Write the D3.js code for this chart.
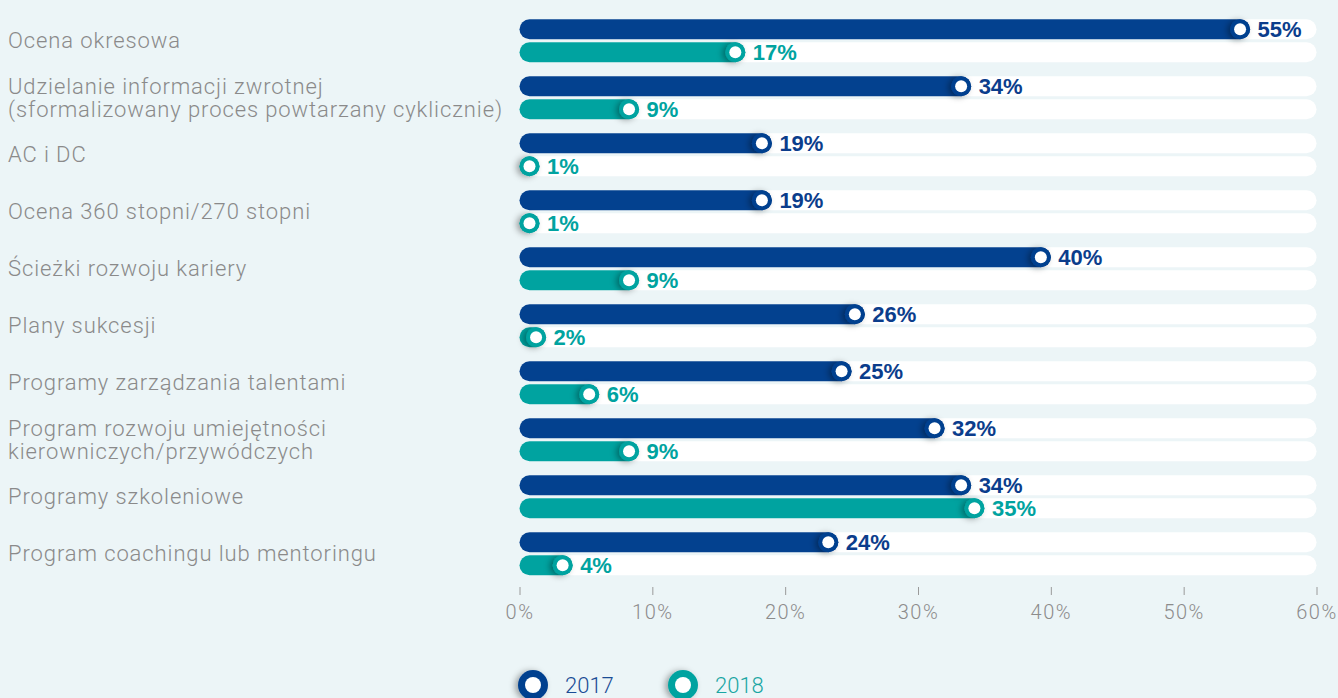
<!DOCTYPE html>
<html>
<head>
<meta charset="utf-8">
<script src="https://cdn.jsdelivr.net/npm/d3@7"></script>
<style>
  html, body { margin: 0; padding: 0; background: #ecf5f7; }
  svg { display: block; }
</style>
</head>
<body>
<svg id="chart" width="1338" height="698"></svg>
<script>
// Narzędzia rozwoju pracowników – porównanie 2017 i 2018
const categories = [
  ["Ocena okresowa"],
  ["Udzielanie informacji zwrotnej", "(sformalizowany proces powtarzany cyklicznie)"],
  ["AC i DC"],
  ["Ocena 360 stopni/270 stopni"],
  ["Ścieżki rozwoju kariery"],
  ["Plany sukcesji"],
  ["Programy zarządzania talentami"],
  ["Program rozwoju umiejętności", "kierowniczych/przywódczych"],
  ["Programy szkoleniowe"],
  ["Program coachingu lub mentoringu"]
];
const values2017 = [55, 34, 19, 19, 40, 26, 25, 32, 34, 24];
const values2018 = [17, 9, 1, 1, 9, 2, 6, 9, 35, 4];
const seriesNames = ["2017", "2018"];
const tickValues = [0, 10, 20, 30, 40, 50, 60];

const colors = { "2017": "#03418f", "2018": "#00a3a0" };
const labelColors = { "2017": "#0b3d8c", "2018": "#00a3a0" };

const svg = d3.select("#chart");
const barH = 20, barGap = 3;

const x = d3.scaleLinear().domain([0, 60]).range([519.5, 1316.5]);
const keys = categories.map((c, i) => i);
const y = d3.scaleBand().domain(keys).range([19.3, 575.3]).paddingInner(14 / 57).paddingOuter(0);

const defs = svg.append("defs");
const f = defs.append("filter").attr("id", "capShadow")
  .attr("x", "-100%").attr("y", "-100%").attr("width", "300%").attr("height", "300%");
f.append("feDropShadow").attr("dx", -3).attr("dy", 1).attr("stdDeviation", 3)
  .attr("flood-color", "#000").attr("flood-opacity", 0.35);

// category labels
const labels = svg.append("g");
categories.forEach((lines, i) => {
  const center = y(i) + y.bandwidth() / 2;
  const lh = 23;
  const first = center + 7.5 - (lines.length - 1) * lh / 2;
  const t = labels.append("text")
    .attr("x", 8)
    .attr("font-family", "Roboto, 'Noto Sans', sans-serif")
    .attr("font-weight", 300)
    .attr("font-size", 22)
    .attr("letter-spacing", 0.9)
    .attr("fill", "#8a8a8a");
  lines.forEach((ln, j) => {
    t.append("tspan").attr("x", 8).attr("y", first + j * lh).text(ln);
  });
});

// rows: one per category and series
const rows = [];
keys.forEach(i => {
  rows.push({ i, s: "2017", v: values2017[i], top: y(i) });
  rows.push({ i, s: "2018", v: values2018[i], top: y(i) + barH + barGap });
});

const g = svg.append("g");

// white tracks
g.selectAll("rect.track").data(rows).join("rect")
  .attr("class", "track")
  .attr("x", x(0)).attr("y", d => d.top)
  .attr("width", x(60) - x(0)).attr("height", barH)
  .attr("rx", barH / 2)
  .attr("fill", "#ffffff");

const endX = d => Math.max(x(d.v), x(0) + barH);

// bars
g.selectAll("rect.bar").data(rows).join("rect")
  .attr("class", "bar")
  .attr("x", x(0)).attr("y", d => d.top)
  .attr("width", d => endX(d) - x(0)).attr("height", barH)
  .attr("rx", barH / 2)
  .attr("fill", d => colors[d.s]);

// end caps with shadow
g.selectAll("circle.cap").data(rows).join("circle")
  .attr("class", "cap")
  .attr("cx", d => endX(d) - barH / 2).attr("cy", d => d.top + barH / 2)
  .attr("r", barH / 2)
  .attr("fill", d => colors[d.s])
  .attr("filter", "url(#capShadow)");

g.selectAll("circle.dot").data(rows).join("circle")
  .attr("class", "dot")
  .attr("cx", d => endX(d) - barH / 2).attr("cy", d => d.top + barH / 2)
  .attr("r", 6)
  .attr("fill", "#ffffff");

// value labels
g.selectAll("text.val").data(rows).join("text")
  .attr("class", "val")
  .attr("x", d => endX(d) + 7.5)
  .attr("y", d => d.top + barH / 2 + 8)
  .attr("font-family", "'Liberation Sans', Arial, sans-serif")
  .attr("font-weight", 700)
  .attr("font-size", 22)
  .attr("fill", d => labelColors[d.s])
  .text(d => d.v + "%");

// axis
const axis = svg.append("g").attr("transform", "translate(0,587)")
  .call(d3.axisBottom(x).tickValues(tickValues).tickSize(8).tickFormat(d => d + "%"));
axis.select(".domain").remove();
axis.selectAll(".tick line").attr("stroke", "#9a9a9a").attr("stroke-width", 1);
axis.selectAll(".tick text")
  .attr("y", 32).attr("dy", 0)
  .attr("font-family", "Roboto, 'Noto Sans', sans-serif")
  .attr("font-weight", 300)
  .attr("font-size", 20)
  .attr("letter-spacing", 1.5)
  .attr("fill", "#8c8c8c");

// legend
const legend = svg.append("g");
const legendItems = [
  { s: "2017", cx: 533, tx: 565 },
  { s: "2018", cx: 683, tx: 715 }
];
legendItems.forEach(it => {
  legend.append("circle").attr("cx", it.cx).attr("cy", 685).attr("r", 15)
    .attr("fill", colors[it.s]).attr("filter", "url(#capShadow)");
  legend.append("circle").attr("cx", it.cx).attr("cy", 685).attr("r", 8).attr("fill", "#fff");
  legend.append("text").attr("x", it.tx).attr("y", 693)
    .attr("font-family", "Roboto, 'Noto Sans', sans-serif")
    .attr("font-weight", 300)
    .attr("font-size", 22)
    .attr("fill", it.s === "2017" ? "#1a4c95" : "#1aa6a3")
    .text(it.s);
});
</script>
</body>
</html>
